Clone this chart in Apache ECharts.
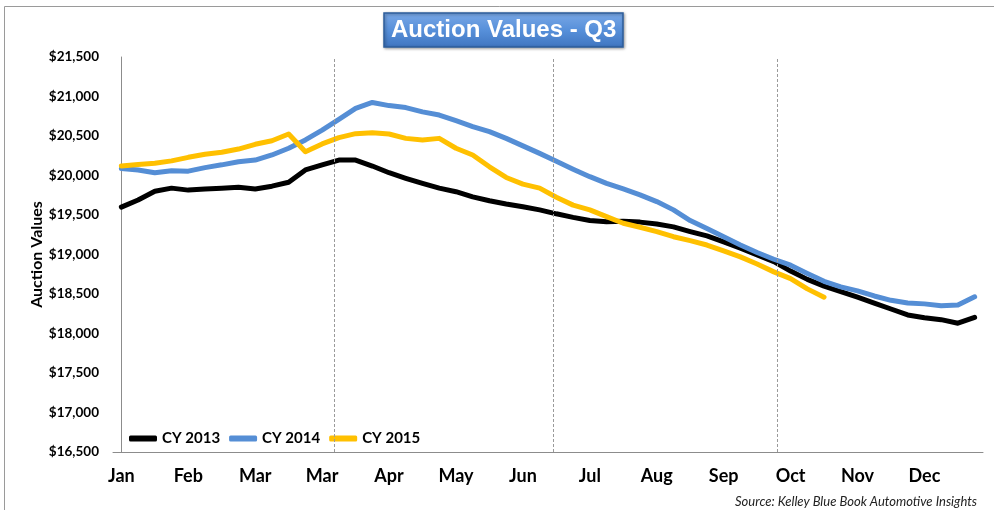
<!DOCTYPE html>
<html>
<head>
<meta charset="utf-8">
<script src="https://cdn.jsdelivr.net/npm/echarts@6/dist/echarts.min.js"></script>
<style>
  html, body { margin: 0; padding: 0; background: #fff; }
  #chart { width: 994px; height: 510px; }
</style>
</head>
<body>
<div id="chart"></div>
<script>
// weekly points, one label every 4 weeks
const weeks = Array.from({ length: 52 }, (_item, index) => index);
const monthLabels = ["Jan", "Feb", "Mar", "Mar", "Apr", "May", "Jun", "Jul", "Aug", "Sep", "Oct", "Nov", "Dec"];

const cy2013 = [
  19600, 19690, 19800, 19840, 19815, 19830, 19840, 19850, 19830, 19865, 19915, 20070, 20135,
  20195, 20195, 20120, 20035, 19965, 19900, 19840, 19795, 19730, 19680, 19640, 19605, 19565,
  19515, 19470, 19430, 19415, 19420, 19410, 19385, 19350, 19290, 19235, 19160, 19080, 18995,
  18910, 18790, 18685, 18600, 18530, 18460, 18385, 18310, 18235, 18200, 18175, 18130, 18205,
];
const cy2014 = [
  20090, 20070, 20035, 20060, 20055, 20100, 20135, 20175, 20195, 20260, 20345, 20450, 20575,
  20710, 20850, 20925, 20885, 20860, 20805, 20765, 20695, 20620, 20555, 20470, 20375, 20280,
  20180, 20080, 19985, 19900, 19830, 19755, 19670, 19565, 19430, 19330, 19225, 19120, 19025,
  18940, 18865, 18760, 18660, 18590, 18540, 18475, 18420, 18385, 18375, 18350, 18360, 18465,
];
const cy2015 = [
  20120, 20140, 20155, 20185, 20230, 20270, 20295, 20335, 20395, 20440, 20525, 20300, 20400,
  20480, 20530, 20540, 20525, 20470, 20450, 20470, 20345, 20260, 20110, 19975, 19890, 19840,
  19725, 19625, 19565, 19480, 19395, 19345, 19290, 19225, 19175, 19120, 19045, 18970, 18880,
  18780, 18695, 18565, 18460,
];
// quarter dividers, in week-index units
const quarterMarks = [12.7, 25.8, 39.2];

const font = "Lato, 'Open Sans', sans-serif";

const chart = echarts.init(document.getElementById("chart"));

function lineSeries(name, data, color) {
  return {
    name,
    type: "line",
    data,
    showSymbol: false,
    symbol: "none",
    lineStyle: { color, width: 5, cap: "round", join: "round" },
    itemStyle: { color },
    z: 3,
  };
}

chart.setOption({
  animation: false,
  title: {
    text: "Auction Values - Q3",
    left: 384,
    top: 13,
    padding: [5, 7, 5, 7],
    backgroundColor: new echarts.graphic.LinearGradient(0, 0, 0, 1, [
      { offset: 0, color: "#7aa8e6" },
      { offset: 0.5, color: "#5790da" },
      { offset: 1, color: "#3f75c0" },
    ]),
    borderColor: "#2d5d9c",
    borderWidth: 1.5,
    shadowColor: "rgba(0,0,0,0.35)",
    shadowBlur: 3,
    shadowOffsetX: 1,
    shadowOffsetY: 1,
    textStyle: {
      color: "#ffffff",
      fontFamily: "'Liberation Sans', Arial, sans-serif",
      fontWeight: "bold",
      fontSize: 24,
    },
  },
  graphic: [
    {
      type: "rect",
      shape: { x: 4.5, y: 6.5, width: 1100, height: 600 },
      style: { fill: "none", stroke: "#9a9a9a", lineWidth: 1 },
      silent: true,
    },
    {
      type: "text",
      right: 17,
      top: 495,
      style: {
        text: "Source: Kelley Blue Book Automotive Insights",
        fontFamily: font,
        fontStyle: "italic",
        fontSize: 13,
        fill: "#222",
      },
      silent: true,
    },
  ],
  legend: {
    data: ["CY 2013", "CY 2014", "CY 2015"],
    left: 124,
    top: 426,
    icon: "roundRect",
    itemWidth: 28,
    itemHeight: 6,
    itemGap: 9,
    textStyle: { fontFamily: font, fontWeight: "bold", fontSize: 15, color: "#000" },
  },
  grid: { left: 113, right: 11, top: 57, bottom: 58 },
  xAxis: [
    {
      type: "category",
      data: weeks,
      boundaryGap: true,
      axisLine: { lineStyle: { color: "#8c8c8c", width: 1 } },
      axisTick: { show: false },
      axisLabel: {
        interval: 3,
        margin: 15,
        color: "#000",
        fontFamily: font,
        fontWeight: "bold",
        fontSize: 18,
        formatter: (_value, index) => monthLabels[index / 4] || "",
      },
      splitLine: { show: false },
    },
    {
      type: "value",
      min: -0.5,
      max: 51.5,
      show: false,
    },
  ],
  yAxis: {
    type: "value",
    min: 16500,
    max: 21500,
    interval: 500,
    name: "Auction Values",
    nameLocation: "middle",
    nameGap: 68,
    nameMoveOverlap: false,
    nameTextStyle: { fontFamily: font, fontWeight: "bold", fontSize: 16, color: "#000" },
    axisLine: { show: true, lineStyle: { color: "#8c8c8c", width: 1 } },
    axisTick: { show: false },
    splitLine: { show: false },
    axisLabel: {
      margin: 14,
      color: "#000",
      fontFamily: font,
      fontWeight: "bold",
      fontSize: 13.5,
      formatter: (v) => "$" + v.toLocaleString("en-US"),
    },
  },
  series: [
    lineSeries("CY 2013", cy2013, "#000000"),
    lineSeries("CY 2014", cy2014, "#558ed5"),
    lineSeries("CY 2015", cy2015, "#ffc000"),
    {
      name: "quarters",
      type: "line",
      xAxisIndex: 1,
      data: [],
      silent: true,
      markLine: {
        silent: true,
        symbol: "none",
        label: { show: false },
        lineStyle: { color: "#9a9a9a", width: 1, type: [3, 2] },
        data: quarterMarks.map((q) => ({ xAxis: q })),
      },
      z: 1,
    },
  ],
});

window.addEventListener("resize", () => {
  chart.resize();
});
</script>
</body>
</html>
